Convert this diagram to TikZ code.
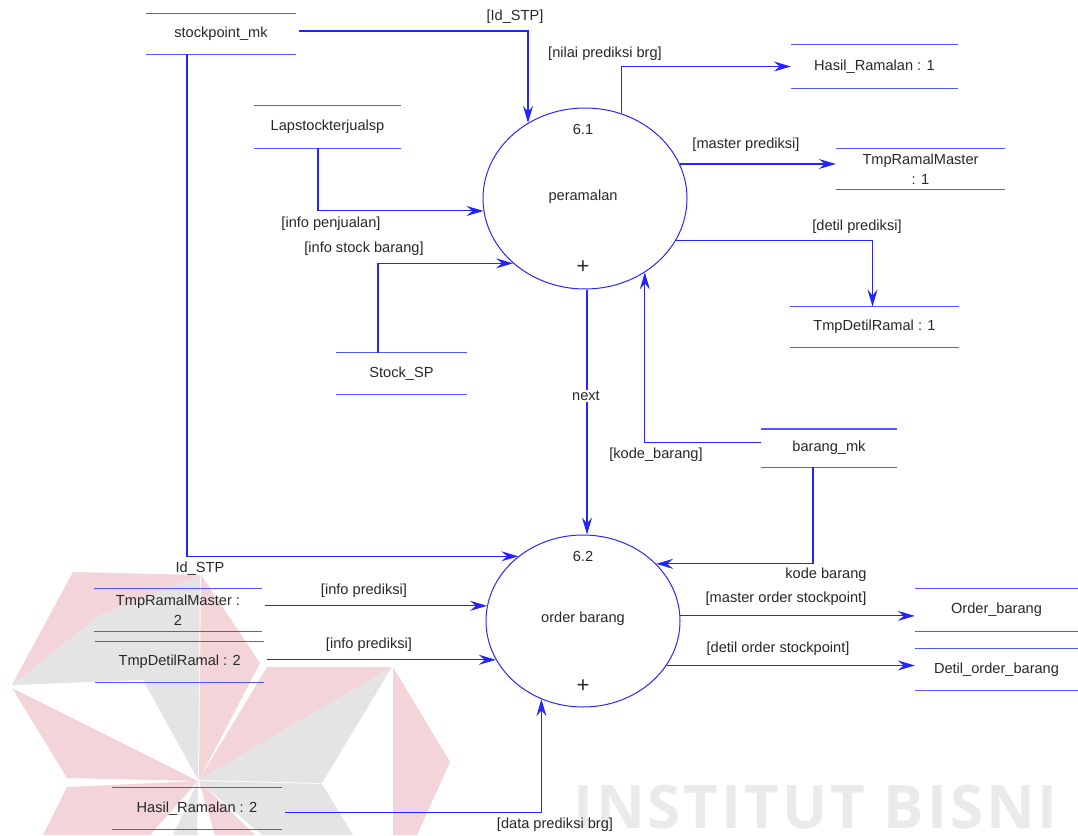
\documentclass[tikz,border=0pt]{standalone}
\usepackage{fontspec}
\setmainfont{Liberation Sans}
\newfontfamily\wmfont[LetterSpace=5]{Open Sans}
\usetikzlibrary{arrows.meta,calc,shapes.geometric}
\definecolor{flowc}{RGB}{35,35,255}
\definecolor{storec}{RGB}{85,85,255}
\definecolor{procc}{RGB}{40,40,255}
\definecolor{txtc}{RGB}{40,40,40}
\definecolor{wmpink}{RGB}{243,212,216}
\definecolor{wmgray}{RGB}{228,228,228}
\definecolor{wmtext}{RGB}{234,234,234}
\begin{document}
\begin{tikzpicture}[x=1pt,y=-1pt,
  every node/.style={font=\fontsize{14.6}{19.5}\selectfont, text=txtc},
  storeline/.style={draw=storec, line width=1.1pt},
  store/.style={rectangle, inner sep=0pt, align=center,
    append after command={(\tikzlastnode.north west) edge[storeline] (\tikzlastnode.north east)
      (\tikzlastnode.south west) edge[storeline] (\tikzlastnode.south east)}},
  proc/.style={ellipse, draw=procc, line width=1pt, inner sep=0pt},
  flow/.style={draw=flowc, line width=1.05pt, -{Stealth[length=17pt,width=10pt,inset=6pt]}},
  plus/.style={font=\fontsize{22}{22}\selectfont},
]
\useasboundingbox (0,0) rectangle (1078,835);
\fill[white] (0,0) rectangle (1078,835);

% watermark
\fill[wmpink] (73,572) -- (200,575) -- (100,615) -- (12,685) -- cycle;
\fill[wmgray] (200,575) -- (100,615) -- (12,685) -- (143,680) -- (198,780) -- cycle;
\fill[white] (12,686) -- (143,681) -- (198,780) -- cycle;
\fill[wmpink] (201,575) -- (260,663) -- (199,780) -- cycle;
\fill[wmpink] (12,688) -- (67,778) -- (198,781) -- cycle;
\fill[wmpink] (267,667) -- (392,667) -- (199,780) -- cycle;
\fill[wmgray] (392,667) -- (322,783) -- (199,780) -- cycle;
\fill[wmpink] (393,667) -- (450,762) -- (417,835) -- (393,835) -- cycle;
\fill[wmgray] (199,781) -- (322,784) -- (353,835) -- (262,835) -- cycle;
\fill[wmpink] (199,781) -- (255,835) -- (215,835) -- cycle;
\fill[wmpink] (67,787) -- (198,781) -- (150,835) -- (43,835) -- cycle;
\fill[wmgray] (198,781) -- (173,835) -- (197,835) -- cycle;
\node[anchor=base west, inner sep=0pt, text=wmtext, font=\wmfont\bfseries\fontsize{60}{60}\selectfont] (wm) at (573,828) {INSTITUT BISNI};

% stores
\node[store, minimum width=150pt, minimum height=40pt] (sp) at (221,34) {stockpoint\_mk};
\node[store, minimum width=147pt, minimum height=42pt] (lap) at (327.5,127) {Lapstockterjualsp};
\node[store, minimum width=131pt, minimum height=41pt] (ssp) at (401.5,373.5) {Stock\_SP};
\node[store, minimum width=167pt, minimum height=43pt] (hr1) at (874.5,66.5) {Hasil\_Ramalan : 1};
\node[store, minimum width=169pt, minimum height=41pt] (trm1) at (920.5,169) {TmpRamalMaster\\: 1};
\node[store, minimum width=169pt, minimum height=40.6pt] (tdr1) at (874.5,327) {TmpDetilRamal : 1};
\node[store, minimum width=136pt, minimum height=37.7pt] (bmk) at (829,448) {barang\_mk};
\node[store, minimum width=168pt, minimum height=42pt] (trm2) at (178,610) {TmpRamalMaster :\\2};
\node[store, minimum width=169pt, minimum height=40.6pt] (tdr2) at (179.7,662) {TmpDetilRamal : 2};
\node[store, minimum width=169pt, minimum height=41pt] (hr2) at (197,808.5) {Hasil\_Ramalan : 2};
\node[store, minimum width=163pt, minimum height=42pt] (ob) at (996.5,610) {Order\_barang};
\node[store, minimum width=163pt, minimum height=41pt] (dob) at (996.5,669.5) {Detil\_order\_barang};

% processes
\node[proc, minimum width=204pt, minimum height=181pt] (p1) at (585,198.5) {};
\node (p1n) at (583,129) {6.1};
\node (p1t) at (583,197) {peramalan};
\node[plus] (p1p) at (583,267) {+};
\node[proc, minimum width=194pt, minimum height=172pt] (p2) at (583,621) {};
\node (p2n) at (583,556) {6.2};
\node (p2t) at (583,619) {order barang};
\node[plus] (p2p) at (583,686) {+};

% flows
\draw[flow] ($(sp.east)+(3,-3)$) -| (p1.127.2);
\draw[flow] (p1.67.6) |- (hr1.west);
\draw[flow] (p1.20.7) -- (p1.20.7 -| trm1.west);
\draw[flow] (p1.-25.07) -| ($(tdr1.north)+(-2,0)$);
\draw[flow] ($(lap.south)+(-9.5,0)$) |- (p1.187.45);
\draw[flow] ($(ssp.north)+(-23.5,0)$) |- (p1.222.3);
\draw[flow] ($(bmk.west)+(0,-5.3)$) -| (p1.-51.88);
\draw[flow] ($(p1.south)+(2,0)$) -- ($(p2.north)+(4,0)$);
\draw[flow] ($(sp.south)+(-34,0)$) |- (p2.135.67);
\draw[flow] ($(bmk.south)+(-16,0)$) |- (p2.38.74);
\draw[flow] ($(trm2.east |- p2.171.86)+(3,0)$) -- (p2.171.86);
\draw[flow] ($(tdr2.east |- p2.204.97)+(3,0)$) -- (p2.204.97);
\draw[flow] (p2.3.73) -- (p2.3.73 -| ob.west);
\draw[flow] (p2.-28.55) -- (p2.-28.55 -| dob.west);
\draw[flow] ($(hr2.east)+(3,3.8)$) -| (p2.242.96);

% flow labels
\node (l1) at (515,17) {[Id\_STP]};
\node (l2) at (605,54) {[nilai prediksi brg]};
\node (l3) at (746,145) {[master prediksi]};
\node (l4) at (857,227) {[detil prediksi]};
\node (l5) at (331,224) {[info penjualan]};
\node (l6) at (364,249) {[info stock barang]};
\node (l7) at (656,455) {[kode\_barang]};
\node[fill=white, inner sep=1pt] (l8) at (586,396) {next};
\node (l9) at (200,569) {Id\_STP};
\node (l10) at (826,575) {kode barang};
\node (l11) at (364,591) {[info prediksi]};
\node (l12) at (369,645) {[info prediksi]};
\node (l13) at (786,599) {[master order stockpoint]};
\node (l14) at (778,649) {[detil order stockpoint]};
\node (l15) at (555,825) {[data prediksi brg]};
\end{tikzpicture}
\end{document}
